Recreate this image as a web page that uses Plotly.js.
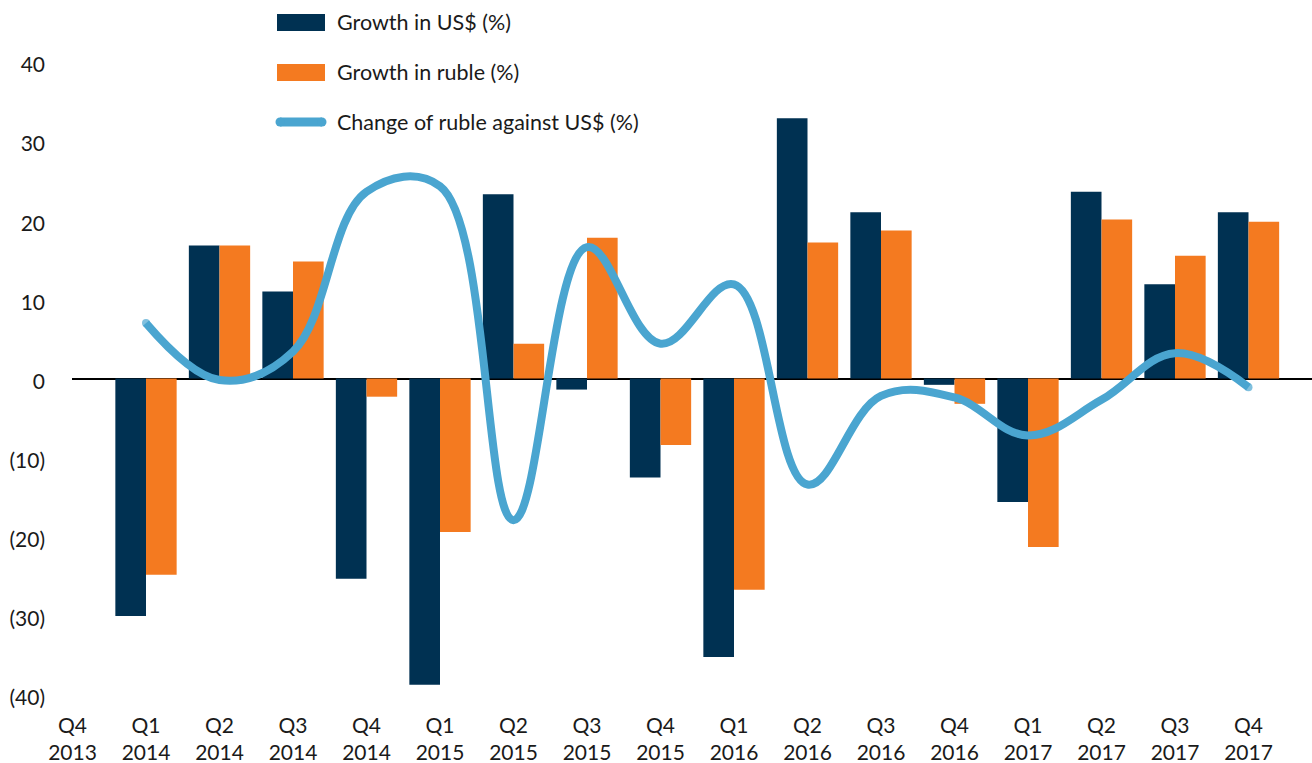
<!DOCTYPE html>
<html>
<head>
<meta charset="utf-8">
<script src="https://cdn.plot.ly/plotly-3.0.1.min.js"></script>
<style>
  html, body { margin: 0; padding: 0; background: #ffffff; }
  #chart { width: 1312px; height: 763px; }
</style>
</head>
<body>
<div id="chart"></div>
<script>
// ---------- DATA ----------
const quarters = ['Q4','Q1','Q2','Q3','Q4','Q1','Q2','Q3','Q4','Q1','Q2','Q3','Q4','Q1','Q2','Q3','Q4'];
const years    = ['2013','2014','2014','2014','2014','2015','2015','2015','2015','2016','2016','2016','2016','2017','2017','2017','2017'];
const seriesNames = ['Growth in US$ (%)', 'Growth in ruble (%)', 'Change of ruble against US$ (%)'];
const growthUSD   = [null, -30.0, 16.8, 11.0, -25.3, -38.7, 23.3, -1.4, -12.5, -35.2, 32.9, 21.0, -0.8, -15.6, 23.6, 11.9, 21.0];
const growthRuble = [null, -24.8, 16.8, 14.8, -2.3, -19.4, 4.4, 17.8, -8.4, -26.7, 17.2, 18.7, -3.2, -21.3, 20.1, 15.5, 19.8];
const rubleChange = [null, 7.0, -0.2, 3.4, 23.6, 24.3, -17.9, 16.6, 4.4, 11.9, -13.4, -2.2, -2.4, -7.2, -2.7, 3.2, -1.1];
const yTickVals  = [-40, -30, -20, -10, 0, 10, 20, 30, 40];
const yTickText  = ['(40)', '(30)', '(20)', '(10)', '0', '10', '20', '30', '40'];

// ---------- STYLE ----------
const NAVY = '#003152';
const ORANGE = '#F47A20';
const BLUE = '#4AA5D0';
const FONT = 'Lato, "Open Sans", sans-serif';
const TXT = '#1a1a1a';

const idx = quarters.map((_, i) => i);
const tickText = quarters.map((q, i) => q + '<br>' + years[i]);

const W = 1312, H = 763;
const M = { l: 72, r: 0, t: 62, b: 68 };
const plotW = W - M.l - M.r, plotH = H - M.t - M.b;
const px2x = p => (p - M.l) / plotW;
const px2y = p => (H - M.b - p) / plotH;

const lastIdx = rubleChange.length - 1;
const firstIdx = rubleChange.findIndex(v => v !== null);

const traces = [
  { type: 'bar', x: idx, y: growthUSD, name: seriesNames[0],
    marker: { color: NAVY, line: { width: 0 } }, showlegend: false, hoverinfo: 'skip' },
  { type: 'bar', x: idx, y: growthRuble, name: seriesNames[1],
    marker: { color: ORANGE, line: { width: 0 } }, showlegend: false, hoverinfo: 'skip' },
  { type: 'scatter', mode: 'lines+markers', x: idx, y: rubleChange, name: seriesNames[2],
    line: { color: BLUE, width: 8, shape: 'spline', smoothing: 1.1 },
    marker: { color: BLUE, line: { width: 0 },
              size: idx.map(i => (i === firstIdx || i === lastIdx) ? 8 : 0) },
    showlegend: false, hoverinfo: 'skip', cliponaxis: false }
];

// custom legend
const legendRows = [22, 72, 122];
const shapes = [
  { type: 'rect', xref: 'paper', yref: 'paper',
    x0: px2x(277), x1: px2x(325), y0: px2y(14), y1: px2y(31),
    fillcolor: NAVY, line: { width: 0 } },
  { type: 'rect', xref: 'paper', yref: 'paper',
    x0: px2x(277), x1: px2x(325), y0: px2y(64), y1: px2y(81),
    fillcolor: ORANGE, line: { width: 0 } },
  { type: 'line', xref: 'paper', yref: 'paper',
    x0: px2x(280), x1: px2x(322), y0: px2y(122), y1: px2y(122),
    line: { color: BLUE, width: 9 } },
  { type: 'circle', xref: 'paper', yref: 'paper',
    x0: px2x(275.5), x1: px2x(284.5), y0: px2y(117.5), y1: px2y(126.5),
    fillcolor: BLUE, line: { width: 0 } },
  { type: 'circle', xref: 'paper', yref: 'paper',
    x0: px2x(317.5), x1: px2x(326.5), y0: px2y(117.5), y1: px2y(126.5),
    fillcolor: BLUE, line: { width: 0 } }
];
const annotations = seriesNames.map((n, i) => ({
  xref: 'paper', yref: 'paper', x: px2x(335), y: px2y(legendRows[i]),
  xanchor: 'left', yanchor: 'middle', showarrow: false, text: n,
  font: { family: FONT, size: 21.5, color: TXT }
}));

const layout = {
  width: W, height: H,
  margin: M,
  paper_bgcolor: '#ffffff', plot_bgcolor: '#ffffff',
  barmode: 'group', bargap: 0.166, bargroupgap: 0,
  font: { family: FONT, size: 21, color: TXT },
  showlegend: false,
  xaxis: {
    range: [(M.l - 72.5) / 73.5, (M.l - 72.5) / 73.5 + plotW / 73.5],
    tickmode: 'array', tickvals: idx, ticktext: tickText,
    showgrid: false, zeroline: false, showline: false, ticks: '',
    tickfont: { family: FONT, size: 21, color: TXT },
    ticklabelstandoff: 16, fixedrange: true, automargin: false
  },
  yaxis: {
    range: [-40, 40],
    tickmode: 'array', tickvals: yTickVals, ticktext: yTickText,
    showgrid: false, zeroline: true, zerolinecolor: '#000000', zerolinewidth: 2,
    showline: false, ticks: '',
    tickfont: { family: FONT, size: 21, color: TXT },
    ticklabelstandoff: 26, ticklabelshift: 3, fixedrange: true, automargin: false
  },
  shapes: shapes,
  annotations: annotations
};

Plotly.newPlot('chart', traces, layout, { displayModeBar: false, staticPlot: true });
</script>
</body>
</html>
